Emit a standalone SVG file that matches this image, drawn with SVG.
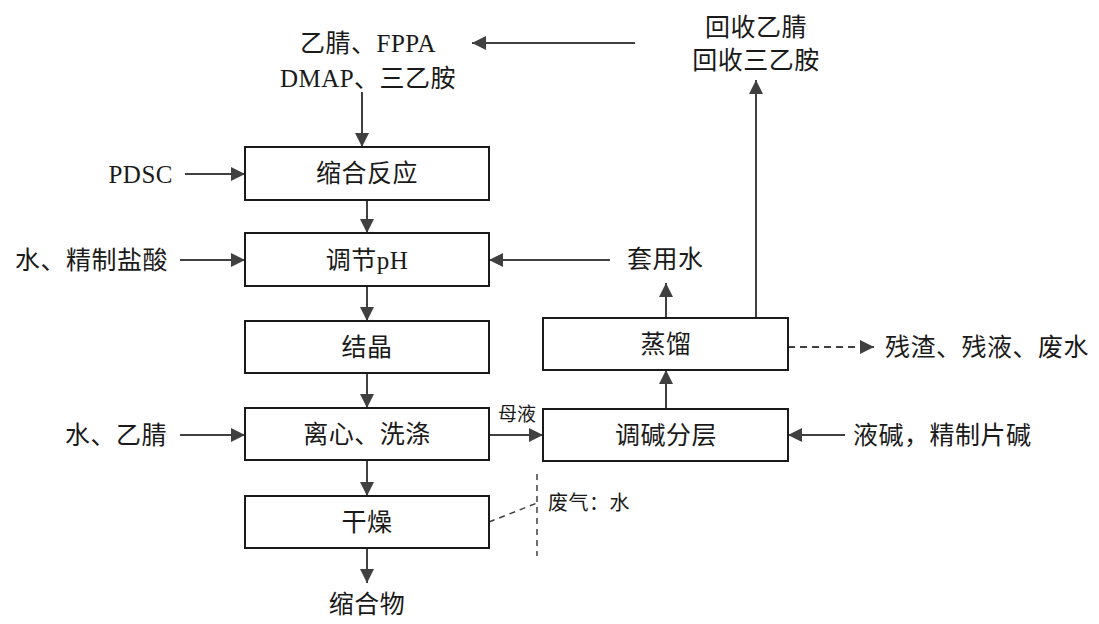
<svg xmlns="http://www.w3.org/2000/svg" width="1099" height="624" viewBox="0 0 1099 624">
<style>
.box{fill:#fff;stroke:#1a1a1a;stroke-width:2}
.t{font-family:"Liberation Serif","Noto Sans CJK SC",serif;font-size:25px;fill:#1a1a1a;letter-spacing:0.5px}
.s{font-family:"Liberation Serif","Noto Sans CJK SC",serif;font-size:19px;fill:#1a1a1a}
.c{text-anchor:middle}
.e{text-anchor:end}
.ln{stroke:#404040;stroke-width:2;fill:none}
.ar{marker-end:url(#ah)}
.d{stroke-dasharray:7,5}
.d2{stroke:#404040;stroke-width:1.5;fill:none;stroke-dasharray:6,5}
</style>
<defs>
<marker id="ah" markerUnits="userSpaceOnUse" markerWidth="16" markerHeight="14" refX="14" refY="7" orient="auto">
<path d="M0,0 L14,7 L0,14 z" fill="#404040"/>
</marker>
</defs>
<g id="connectors">
<line class="ln ar" x1="362" y1="92" x2="362" y2="147"/>
<line class="ln ar" x1="185" y1="174" x2="245" y2="174"/>
<line class="ln ar" x1="367" y1="200" x2="367" y2="233"/>
<line class="ln ar" x1="180" y1="260" x2="245" y2="260"/>
<line class="ln ar" x1="610" y1="260" x2="489" y2="260"/>
<line class="ln ar" x1="367" y1="286" x2="367" y2="321"/>
<line class="ln ar" x1="367" y1="373" x2="367" y2="408"/>
<line class="ln ar" x1="180" y1="435" x2="245" y2="435"/>
<line class="ln ar" x1="489" y1="435" x2="543" y2="435"/>
<line class="ln ar" x1="367" y1="460" x2="367" y2="496"/>
<line class="ln ar" x1="367" y1="548" x2="367" y2="583"/>
<line class="ln ar" x1="666" y1="409" x2="666" y2="370"/>
<line class="ln ar" x1="666" y1="318" x2="666" y2="283"/>
<line class="ln ar" x1="756" y1="318" x2="756" y2="80"/>
<line class="ln ar" x1="635" y1="43" x2="472" y2="43"/>
<line class="ln ar d" x1="788" y1="347" x2="874" y2="347"/>
<line class="ln ar" x1="845" y1="435" x2="788" y2="435"/>
<line class="d2" x1="537" y1="474" x2="537" y2="556"/>
<line class="d2" x1="489" y1="522" x2="537" y2="503"/>
</g>
<g id="n_inputs_top">
<text class="t c" x="368" y="52">乙腈、FPPA</text>
<text class="t c" x="368" y="87">DMAP、三乙胺</text>
</g>
<g id="n_recycle">
<text class="t c" x="756" y="36">回收乙腈</text>
<text class="t c" x="756" y="69">回收三乙胺</text>
</g>
<g id="n_pdsc"><text class="t e" x="173" y="183">PDSC</text></g>
<g id="n_acid"><text class="t e" x="168" y="269">水、精制盐酸</text></g>
<g id="n_water_acn"><text class="t e" x="167" y="444">水、乙腈</text></g>
<g id="n_condense">
<rect class="box" x="245" y="147" width="244" height="53"/>
<text class="t c" x="367" y="182">缩合反应</text>
</g>
<g id="n_ph">
<rect class="box" x="245" y="233" width="244" height="53"/>
<text class="t c" x="367" y="269">调节pH</text>
</g>
<g id="n_cryst">
<rect class="box" x="245" y="321" width="244" height="52"/>
<text class="t c" x="367" y="356">结晶</text>
</g>
<g id="n_centri">
<rect class="box" x="245" y="408" width="244" height="52"/>
<text class="t c" x="367" y="443">离心、洗涤</text>
</g>
<g id="n_dry">
<rect class="box" x="245" y="496" width="244" height="52"/>
<text class="t c" x="367" y="531">干燥</text>
</g>
<g id="n_product"><text class="t c" x="367" y="613">缩合物</text></g>
<g id="n_distill">
<rect class="box" x="543" y="318" width="245" height="52"/>
<text class="t c" x="666" y="353">蒸馏</text>
</g>
<g id="n_layer">
<rect class="box" x="543" y="409" width="245" height="52"/>
<text class="t c" x="666" y="444">调碱分层</text>
</g>
<g id="n_reuse"><text class="t" x="627" y="268">套用水</text></g>
<g id="n_residue"><text class="t" x="885" y="356">残渣、残液、废水</text></g>
<g id="n_alkali"><text class="t" x="853" y="444">液碱，精制片碱</text></g>
<g id="n_mother"><text class="s c" x="517" y="421">母液</text></g>
<g id="n_gas"><text class="t" x="548" y="510" style="font-size:20px">废气：水</text></g>
</svg>
